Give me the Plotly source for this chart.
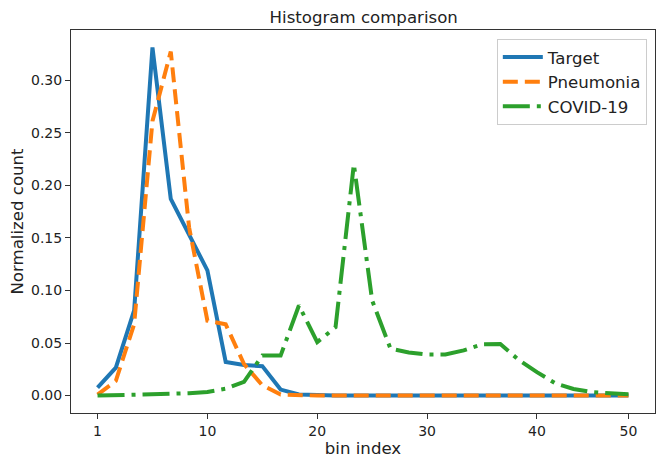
import plotly.graph_objects as go

bin_idx = list(range(30))
tick_pos = [0, 6, 12, 18, 24, 29]
tick_labels = ["1", "10", "20", "30", "40", "50"]

target = [0.0076, 0.0266, 0.081, 0.331, 0.187, 0.153, 0.119, 0.032, 0.029, 0.028,
          0.0057, 0.001, 0.0003, 0, 0, 0, 0, 0, 0, 0,
          0, 0, 0, 0, 0, 0, 0, 0, 0, 0]
pneumonia = [0.001, 0.014, 0.068, 0.261, 0.327, 0.16, 0.0712, 0.0677, 0.03, 0.0098,
             0.001, 0.0003, 0, 0, 0, 0, 0, 0, 0, 0,
             0, 0, 0, 0, 0, 0, 0, 0, 0, 0]
covid = [0, 0.0003, 0.0006, 0.001, 0.0015, 0.0022, 0.0035, 0.0065, 0.013, 0.038,
         0.038, 0.0857, 0.0509, 0.065, 0.220, 0.0904, 0.0446, 0.041, 0.039, 0.039,
         0.043, 0.0487, 0.049, 0.034, 0.0223, 0.0117, 0.0063, 0.0034, 0.0022, 0.0012]

font = "DejaVu Sans"
fig = go.Figure()
fig.add_trace(go.Scatter(x=bin_idx, y=target, mode="lines", name="Target",
                         line=dict(color="#1f77b4", width=4)))
fig.add_trace(go.Scatter(x=bin_idx, y=pneumonia, mode="lines", name="Pneumonia",
                         line=dict(color="#ff7f0e", width=4, dash="15px,7px")))
fig.add_trace(go.Scatter(x=bin_idx, y=covid, mode="lines", name="COVID-19",
                         line=dict(color="#2ca02c", width=4, dash="27px,7px,4px,7px")))

axis_common = dict(showline=True, linecolor="#333333", linewidth=1, mirror=True,
                   ticks="outside", ticklen=5, tickcolor="#333333", tickwidth=1,
                   showgrid=False, zeroline=False, automargin=False,
                   tickfont=dict(family=font, size=14, color="#222222"))

# page body has an 8px default margin; figure is sized to fill the rest
W, H = 658, 455
fig.update_layout(
    width=W, height=H,
    margin=dict(l=63, r=11, t=22, b=50),
    paper_bgcolor="white", plot_bgcolor="white",
    title=dict(text="Histogram comparison", x=355.7 / W, xanchor="center", y=1 - 9.5 / H,
               yanchor="middle", font=dict(family=font, size=16.6, color="#222222")),
    xaxis=dict(range=[-1.45, 30.45], tickvals=tick_pos, ticktext=tick_labels,
               title=dict(text="bin index", standoff=2,
                          font=dict(family=font, size=16.6, color="#222222")),
               **axis_common),
    yaxis=dict(range=[-0.01655, 0.34755], tickvals=[0, 0.05, 0.1, 0.15, 0.2, 0.25, 0.3],
               tickformat=".2f",
               title=dict(text="Normalized count", standoff=3,
                          font=dict(family=font, size=16.6, color="#222222")),
               **axis_common),
    legend=dict(x=0.986, y=0.977, xanchor="right", yanchor="top",
                bgcolor="rgba(255,255,255,0.8)", bordercolor="#cccccc", borderwidth=1,
                font=dict(family=font, size=16.6, color="#222222"),
                itemwidth=40, tracegroupgap=0),
    showlegend=True,
)

fig.write_html("out.html")
